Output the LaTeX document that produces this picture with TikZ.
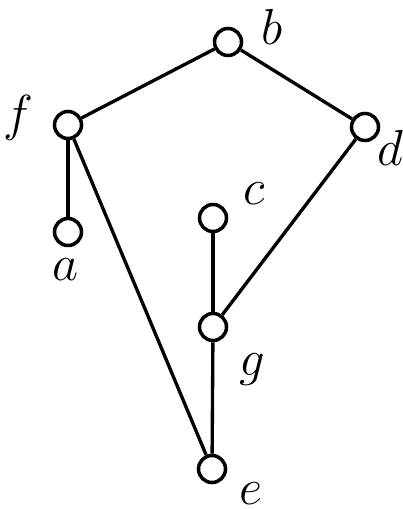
\documentclass[tikz,border=0pt]{standalone}
\usetikzlibrary{positioning}

\begin{document}
\begin{tikzpicture}[x=0.01cm,y=-0.01cm,line width=0.95pt,font=\fontsize{15}{17}\selectfont]
  \tikzset{vert/.style={draw,circle,fill=white,inner sep=0pt,minimum size=0.27cm,line width=1pt},
           lab/.style={inner sep=0pt}}
  \useasboundingbox (0,0) rectangle (402,510);
  % vertices
  \node[vert] (b) at (228,42) {};
  \node[vert] (f) at (68,125) {};
  \node[vert] (d) at (365,127) {};
  \node[vert] (a) at (68,232) {};
  \node[vert] (c) at (213,218) {};
  \node[vert] (g) at (213,327) {};
  \node[vert] (e) at (212,469) {};
  % labels
  \node[lab] (lb) at (272,27) {$b$};
  \node[lab] (lf) at (18,118) {$f$};
  \node[lab] (ld) at (390,148) {$d$};
  \node[lab] (la) at (66,270) {$a$};
  \node[lab] (lc) at (254,194) {$c$};
  \node[lab] (lg) at (252,370) {$g$};
  \node[lab] (le) at (251,494) {$e$};
  % edges
  \foreach \u/\v in {b/f,b/d,f/a,f/e,c/g,g/d,g/e}{
    \draw (\u) -- (\v);
  }
\end{tikzpicture}
\end{document}
